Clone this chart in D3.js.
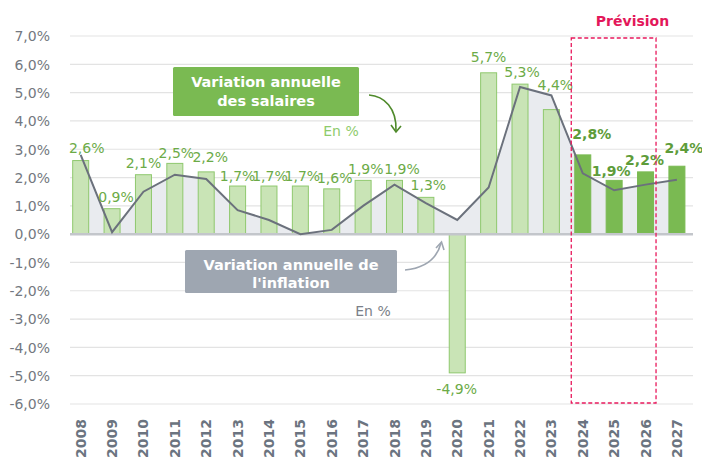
<!DOCTYPE html>
<html><head><meta charset="utf-8">
<script src="https://cdn.jsdelivr.net/npm/d3@7"></script>
<style>body{margin:0;background:#fff}svg{display:block}text{font-family:"DejaVu Sans",sans-serif}</style>
</head><body><svg id="c" width="702" height="460"></svg>
<script>
const years = ["2008","2009","2010","2011","2012","2013","2014","2015","2016","2017","2018","2019","2020","2021","2022","2023","2024","2025","2026","2027"];
const salaires = [2.6,0.9,2.1,2.5,2.2,1.7,1.7,1.7,1.6,1.9,1.9,1.3,-4.9,5.7,5.3,4.4,2.8,1.9,2.2,2.4];
const inflation = [2.8,0.07,1.5,2.1,1.95,0.85,0.5,0.0,0.15,1.0,1.75,1.1,0.5,1.65,5.2,4.9,2.15,1.55,1.75,1.92];
const forecastYears = ["2024","2025","2026","2027"];
const yTicks = [-6,-5,-4,-3,-2,-1,0,1,2,3,4,5,6,7];
// label nudges (dx, dy from bar end)
const labelDx = [6,4,0,1.5,4,0,1,2,3,2.7,7.5,2.5,-0.6,0,2,4,9,-3,-1,7];
const labelDy = [-8,-7,-7,-5.7,-10,-5.3,-5.3,-5.3,-5.5,-6,-6,-7,21,-10.5,-7.4,-19.6,-16,-4.6,-6.8,-13];

const svg = d3.select("#c");
const x = d3.scaleBand().domain(years).range([65, 692.6]).paddingInner(0.49).paddingOuter(0.245);
const y = d3.scaleLinear().domain([-6, 7]).range([404, 36]);
const cx = d => x(d) + x.bandwidth()/2;
const fmt = v => (v < 0 ? "-" : "") + Math.abs(v).toFixed(1).replace(".", ",") + "%";

// gridlines
svg.append("g").selectAll("line").data(yTicks.filter(t => t !== 0)).join("line")
  .attr("x1", 70).attr("x2", 693).attr("y1", d => y(d)).attr("y2", d => y(d))
  .attr("stroke", "#e3e3e3").attr("stroke-width", 1.2);
// y tick labels
svg.append("g").selectAll("text").data(yTicks).join("text")
  .attr("x", 50).attr("y", d => y(d)).attr("dy", "0.38em").attr("text-anchor", "end")
  .attr("font-size", 14).attr("fill", "#737880").text(d => fmt(d));

// inflation area
const pts = years.map((yr, i) => [cx(yr), inflation[i]]);
svg.append("path").datum(pts)
  .attr("d", d3.area().x(d => d[0]).y0(y(0)).y1(d => y(d[1])))
  .attr("fill", "#e9ebef");

// bars
svg.append("g").selectAll("rect").data(years).join("rect")
  .attr("x", d => x(d)).attr("width", x.bandwidth())
  .attr("y", (d, i) => y(Math.max(0, salaires[i])))
  .attr("height", (d, i) => Math.abs(y(salaires[i]) - y(0)))
  .attr("fill", d => forecastYears.includes(d) ? "#7aba52" : "#c9e4b6")
  .attr("stroke", d => forecastYears.includes(d) ? "#7aba52" : "#8fc86e")
  .attr("stroke-width", 1);

// zero line
svg.append("line").attr("x1", 70).attr("x2", 693).attr("y1", y(0)).attr("y2", y(0))
  .attr("stroke", "#c3c6cb").attr("stroke-width", 2.5);

// inflation line
svg.append("path").datum(pts)
  .attr("d", d3.line().x(d => d[0]).y(d => y(d[1])))
  .attr("fill", "none").attr("stroke", "#6b717c").attr("stroke-width", 2);

// value labels
svg.append("g").selectAll("text").data(years).join("text")
  .attr("x", (d, i) => cx(d) + labelDx[i])
  .attr("y", (d, i) => y(salaires[i]) + labelDy[i])
  .attr("text-anchor", "middle").attr("font-size", 14)
  .attr("font-weight", d => forecastYears.includes(d) ? "bold" : "normal")
  .attr("fill", d => forecastYears.includes(d) ? "#5e9c3a" : "#6cab47")
  .text((d, i) => fmt(salaires[i]));

// year labels
svg.append("g").selectAll("text").data(years).join("text")
  .attr("transform", d => `translate(${cx(d)},419) rotate(-90)`)
  .attr("dy", "0.36em").attr("text-anchor", "end")
  .attr("font-size", 14).attr("font-weight", "bold").attr("fill", "#6b7480")
  .text(d => d);

// forecast box
const fx0 = x("2024") - 3.5, fx1 = x("2026") + x.bandwidth() + 2.5;
svg.append("rect").attr("x", fx0).attr("y", 38).attr("width", fx1 - fx0).attr("height", 365)
  .attr("fill", "none").attr("stroke", "#e8185c").attr("stroke-width", 1.3).attr("stroke-dasharray", "4,2.5");
svg.append("text").attr("x", 632.5).attr("y", 25.5).attr("text-anchor", "middle")
  .attr("font-size", 14).attr("font-weight", "bold").attr("fill", "#e3175a").text("Prévision");

// salary legend box
svg.append("rect").attr("x", 173).attr("y", 67).attr("width", 186).attr("height", 49).attr("rx", 1.5).attr("fill", "#7aba52");
svg.append("text").attr("x", 266).attr("y", 87).attr("text-anchor", "middle").attr("font-size", 14.5).attr("font-weight", "bold").attr("fill", "#fff").text("Variation annuelle");
svg.append("text").attr("x", 266).attr("y", 105.5).attr("text-anchor", "middle").attr("font-size", 14.5).attr("font-weight", "bold").attr("fill", "#fff").text("des salaires");
svg.append("text").attr("x", 341).attr("y", 136).attr("text-anchor", "middle").attr("font-size", 14).attr("fill", "#8ecb6c").text("En %");
svg.append("path").attr("d", "M369,95 C384,96 397,108 396,131").attr("fill", "none").attr("stroke", "#4f8a2b").attr("stroke-width", 1.6);
svg.append("path").attr("d", "M391,125 L396,132 L401,126").attr("fill", "none").attr("stroke", "#4f8a2b").attr("stroke-width", 1.6);

// inflation legend box
svg.append("rect").attr("x", 185).attr("y", 250).attr("width", 212).attr("height", 43).attr("rx", 1.5).attr("fill", "#9ea6b1");
svg.append("text").attr("x", 291).attr("y", 270).attr("text-anchor", "middle").attr("font-size", 14.5).attr("font-weight", "bold").attr("fill", "#fff").text("Variation annuelle de");
svg.append("text").attr("x", 291).attr("y", 288).attr("text-anchor", "middle").attr("font-size", 14.5).attr("font-weight", "bold").attr("fill", "#fff").text("l'inflation");
svg.append("text").attr("x", 373).attr("y", 316).attr("text-anchor", "middle").attr("font-size", 14).attr("fill", "#7a7f88").text("En %");
svg.append("path").attr("d", "M405,270 C425,268 437,259 441,243").attr("fill", "none").attr("stroke", "#9ea6b1").attr("stroke-width", 1.6);
svg.append("path").attr("d", "M436,248 L441.5,242 L444,250").attr("fill", "none").attr("stroke", "#9ea6b1").attr("stroke-width", 1.6);
</script></body></html>
